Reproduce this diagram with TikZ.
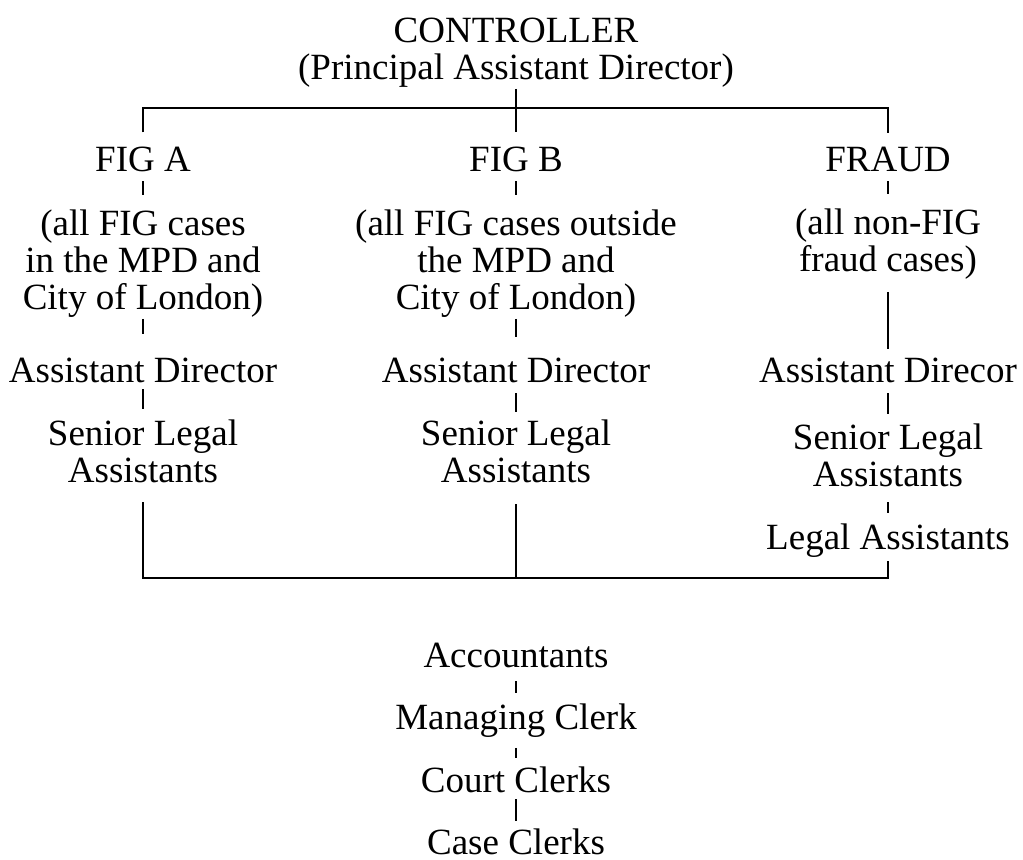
\documentclass[tikz,border=0pt]{standalone}
\usepackage{fontspec}
\setmainfont{Liberation Serif}
\usetikzlibrary{calc}

\begin{document}
\begin{tikzpicture}[x=0.5pt,y=-0.5pt,line width=1pt]
		\tikzstyle{post}=[inner sep=0pt,anchor=base,align=center,
			font=\fontsize{18.5}{18.5}\selectfont];
		\tikzstyle{bus}=[line width=1.4pt];
		\useasboundingbox(0,0)rectangle(1023,860);
		\node[post](c)at(516,80){CONTROLLER\\(Principal Assistant Director)};
		\node[post](a0)at(143,172){FIG A};
		\node[post](a1)at(143,310){(all FIG cases\\in the MPD and\\City of London)};
		\node[post](a2)at(143,383){Assistant Director};
		\node[post](a3)at(143,483){Senior Legal\\Assistants};
		\node[post](b0)at(516,172){FIG B};
		\node[post](b1)at(516,310){(all FIG cases outside\\the MPD and\\City of London)};
		\node[post](b2)at(516,383){Assistant Director};
		\node[post](b3)at(516,483){Senior Legal\\Assistants};
		\node[post](f0)at(888,172){FRAUD};
		\node[post](f1)at(888,272){(all non-FIG\\fraud cases)};
		\node[post](f2)at(888,383){Assistant Direcor};
		\node[post](f3)at(888,487){Senior Legal\\Assistants};
		\node[post](f4)at(888,550){Legal Assistants};
		\node[post](k0)at(516,668){Accountants};
		\node[post](k1)at(516,730){Managing Clerk};
		\node[post](k2)at(516,792){Court Clerks};
		\node[post](k3)at(516,854){Case Clerks};
		\coordinate(top)at(516,108);
		\coordinate(bot)at(516,578);

		\draw[shorten >=7pt](c)--(b0);
		\draw[bus,shorten <=7pt,shorten >=7pt](a0.north)|-(top)-|(f0.north);
		\draw[shorten <=4pt,shorten >=7pt](a0)--(a1);
		\draw[shorten >=11.5pt](a1)--(a2);
		\draw[shorten <=2.5pt,shorten >=5pt](a2)--(a3);
		\draw[shorten <=4pt,shorten >=7pt](b0)--(b1);
		\draw[shorten >=10pt](b1)--(b2);
		\draw[shorten <=4.5pt,shorten >=3.5pt](b2)--(b3);
		\draw[shorten <=4pt,shorten >=7pt](f0)--(f1);
		\draw[shorten <=5.5pt,shorten >=4pt](f1)--(f2);
		\draw[shorten <=4.5pt,shorten >=4.5pt](f2)--(f3);
		\draw[shorten <=7pt,shorten >=5pt](f3)--(f4);
		\draw[bus,shorten <=9pt,shorten >=1pt](a3.south)|-(bot)-|(f4.south);
		\draw[shorten <=10pt](b3.south)--(bot);
		\draw[shorten <=6pt,shorten >=5pt](k0)--(k1);
		\draw[shorten <=4.5pt,shorten >=3.5pt](k1)--(k2);
		\draw[shorten <=3pt,shorten >=3pt](k2)--(k3);
\end{tikzpicture}
\end{document}
